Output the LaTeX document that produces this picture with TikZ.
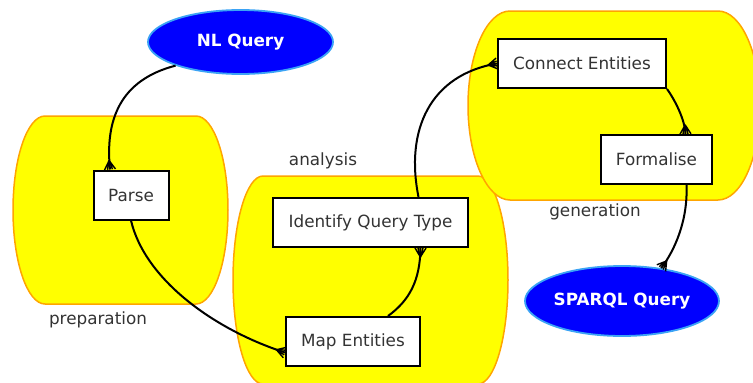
\documentclass[tikz,border=0pt]{standalone}
\usepackage{fontspec}
\setmainfont{DejaVu Sans}
\usetikzlibrary{arrows.meta,shapes.geometric}
\definecolor{clfill}{HTML}{FFFF00}
\definecolor{clline}{HTML}{FFA500}
\definecolor{txt}{HTML}{333333}
\definecolor{elfill}{HTML}{0000FF}
\definecolor{elline}{HTML}{3BA3F5}
\pgfdeclarearrow{
  name = crowfoot,
  setup code = {
    \pgfarrowssettipend{0pt}
    \pgfarrowssetlineend{0pt}
    \pgfarrowssetbackend{-9pt}
    \pgfarrowssetvisualbackend{-9pt}
  },
  drawing code = {
    \pgfsetdash{}{0pt}
    \pgfsetlinewidth{1.4pt}
    \pgfsetroundjoin
    \pgfpathmoveto{\pgfqpoint{0pt}{5.5pt}}
    \pgfpathlineto{\pgfqpoint{-9pt}{0pt}}
    \pgfpathlineto{\pgfqpoint{0pt}{-5.5pt}}
    \pgfpathmoveto{\pgfqpoint{0pt}{2.5pt}}
    \pgfpathlineto{\pgfqpoint{-9pt}{0pt}}
    \pgfpathlineto{\pgfqpoint{0pt}{-2.5pt}}
    \pgfusepathqstroke
  }
}
\begin{document}
\begin{tikzpicture}[x=1pt,y=1pt,
  cluster/.style={fill=clfill,draw=clline,line width=1.5pt},
  box/.style={draw=black,fill=white,line width=2pt,rectangle,minimum height=49pt,inner sep=0pt,text=txt,font=\fontsize{16.8}{20}\selectfont},
  query/.style={ellipse,fill=elfill,draw=elline,line width=1.8pt,inner sep=0pt,text=white,font=\fontsize{16.8}{20}\selectfont\bfseries},
  clabel/.style={text=txt,inner sep=0pt,font=\fontsize{16.8}{20}\selectfont},
  flow/.style={line width=2pt,-crowfoot}
]
\clip (0,-383) rectangle (753,0);
% clusters
\path[cluster] (45,-116) -- (196,-116) arc[start angle=90,end angle=-90,x radius=32,y radius=94] -- (45,-304) arc[start angle=270,end angle=90,x radius=32,y radius=94] -- cycle;
\path[cluster] (263,-176) -- (478,-176) arc[start angle=90,end angle=-90,x radius=30,y radius=104] -- (263,-384) arc[start angle=270,end angle=90,x radius=30,y radius=104] -- cycle;
\path[cluster] (510,-11) -- (718,-11) arc[start angle=90,end angle=-90,x radius=42,y radius=94.5] -- (510,-200) arc[start angle=270,end angle=90,x radius=42,y radius=94.5] -- cycle;
% cluster labels
\node[clabel] (lprep) at (98,-320) {preparation};
\node[clabel] (lana) at (323,-161) {analysis};
\node[clabel] (lgen) at (595,-212) {generation};
% nodes
\node[query,minimum width=185pt,minimum height=64pt] (nl) at (240.5,-42) {NL Query};
\node[query,minimum width=194pt,minimum height=70pt] (sparql) at (622,-301) {SPARQL Query};
\node[box,minimum width=75pt] (parse) at (131,-195) {Parse};
\node[box,minimum width=195pt] (identify) at (370.5,-222.5) {Identify Query Type};
\node[box,minimum width=134pt] (map) at (353,-341.5) {Map Entities};
\node[box,minimum width=168pt] (connect) at (582,-63.5) {Connect Entities};
\node[box,minimum width=111pt] (formalise) at (656.5,-159.5) {Formalise};
% edges
\draw[flow] (nl.200) .. controls (120,-80) and (105,-120) .. ([xshift=-21pt]parse.north);
\draw[flow] (parse.south) .. controls (145,-280) and (215,-330) .. ([yshift=-11pt]map.west);
\draw[flow] ([xshift=35pt]map.north) .. controls (410,-300) and (420,-280) .. ([xshift=50pt]identify.south);
\draw[flow] ([xshift=48pt]identify.north) .. controls (405,-130) and (430,-75) .. (connect.west);
\draw[flow] (connect.south east) .. controls (675,-100) and (685,-120) .. ([xshift=29pt]formalise.north);
\draw[flow] ([xshift=30pt]formalise.south) .. controls (688,-220) and (675,-250) .. (sparql.40);
\end{tikzpicture}
\end{document}
